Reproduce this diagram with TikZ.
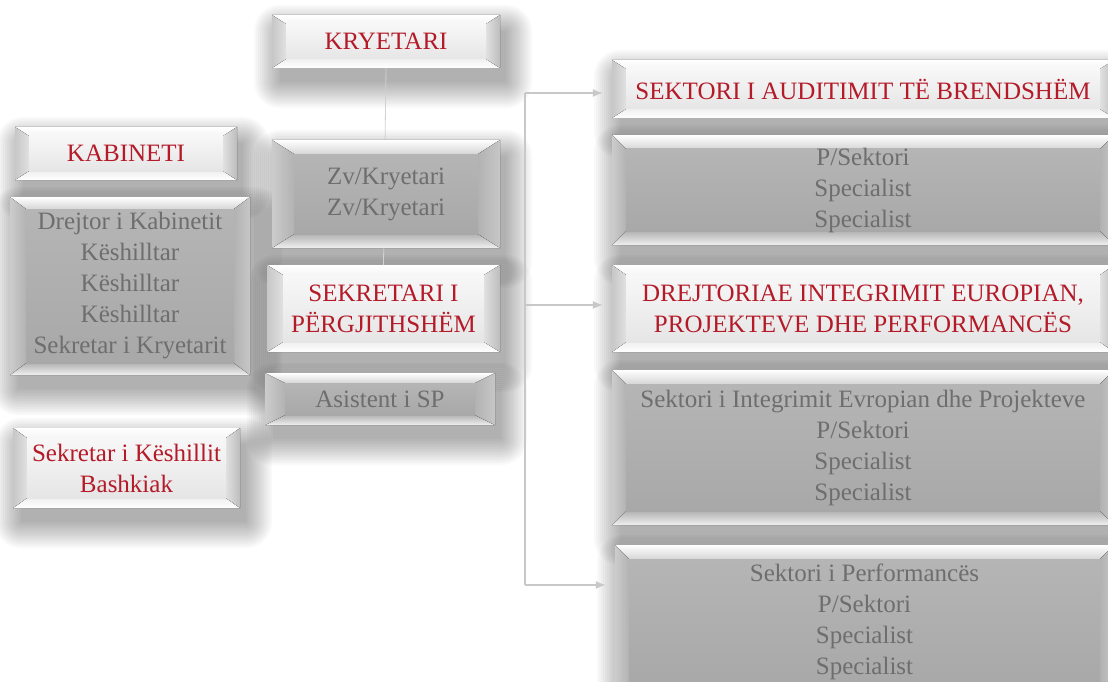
\documentclass[tikz,border=0pt]{standalone}
\usepackage{fontspec}
\setmainfont{Liberation Serif}
\usetikzlibrary{arrows.meta}
\definecolor{redt}{RGB}{180,26,40}
\definecolor{grayt}{RGB}{110,110,110}
\definecolor{connc}{RGB}{200,200,200}
\tikzset{
  Ltop/.style={top color=white,bottom color=black!4},
  Lbot/.style={top color=black!6,bottom color=white},
  Lleft/.style={left color=black!22,right color=black!12},
  Lright/.style={left color=black!12,right color=black!26},
  Lface/.style={top color=black!3,bottom color=black!10},
  Dtop/.style={top color=white,bottom color=black!16},
  Dbot/.style={top color=black!30,bottom color=black!6},
  Dleft/.style={left color=black!20,right color=black!30},
  Dright/.style={left color=black!30,right color=black!22},
  Dface/.style={top color=black!29,bottom color=black!34},
  Ltext/.style={text=redt,align=center,inner sep=0pt,font=\fontsize{25}{31}\selectfont},
  Dtext/.style={text=grayt,align=center,inner sep=0pt,font=\fontsize{25}{31}\selectfont},
  conn/.style={draw=connc,line width=1.3pt},
  arr/.style={conn,-{Latex[length=10pt,width=8pt]},shorten >=9pt},
}
% #1 name #2 type #3 x1 #4 y1 #5 x2 #6 y2 #7 dx #8 dy #9 text
\newcommand\mkbox[9]{%
  \fill[#2top] (#3,#4) -- (#5,#4) -- ({#5-#7},{#4+#8}) -- ({#3+#7},{#4+#8}) -- cycle;
  \fill[#2bot] (#3,#6) -- (#5,#6) -- ({#5-#7},{#6-#8}) -- ({#3+#7},{#6-#8}) -- cycle;
  \fill[#2left] (#3,#4) -- ({#3+#7},{#4+#8}) -- ({#3+#7},{#6-#8}) -- (#3,#6) -- cycle;
  \fill[#2right] (#5,#4) -- ({#5-#7},{#4+#8}) -- ({#5-#7},{#6-#8}) -- (#5,#6) -- cycle;
  \fill[#2face] ({#3+#7},{#4+#8}) rectangle ({#5-#7},{#6-#8});
  \node[#2text,minimum width={#5-#3},minimum height={#6-#4}] (#1) at ({(#3+#5)/2},{(#4+#6)/2}) {#9};
}
\newcommand\shad[4]{%
  \foreach \k in {0,2,...,26}{%
    \fill[black,opacity=0.022,rounded corners=\k] ({#1+8-\k},{#2+16-\k}) rectangle ({#3+6+\k},{#4+14+\k});
  }%
}
\begin{document}
\begin{tikzpicture}[x=1pt,y=-1pt]
\useasboundingbox (0,0) rectangle (1108,682);
\clip (0,0) rectangle (1108,682);
\fill[white] (0,0) rectangle (1108,682);
% shadows
\shad{272}{15}{500}{68}
\shad{272}{140}{500}{248}
\shad{267}{265}{500}{352}
\shad{265}{373}{495}{425}
\shad{15}{127}{237}{180}
\shad{10}{197}{250}{375}
\shad{13}{428}{240}{508}
\shad{612}{60}{1114}{118}
\shad{612}{135}{1114}{245}
\shad{612}{265}{1114}{352}
\shad{612}{370}{1114}{525}
\shad{615}{545}{1114}{690}
% connector junctions
\coordinate (t1) at (525,93);
\coordinate (t2) at (525,305);
\coordinate (t3) at (525,585);
% boxes
\mkbox{kab}{L}{15}{127}{237}{180}{14}{9}{KABINETI}
\mkbox{dre}{D}{10}{197}{250}{375}{16}{12}{Drejtor i Kabinetit\\Këshilltar\\Këshilltar\\Këshilltar\\Sekretar i Kryetarit}
\mkbox{skb}{L}{13}{428}{240}{508}{14}{10}{Sekretar i Këshillit\\Bashkiak}
\mkbox{kry}{L}{272}{15}{500}{68}{14}{9}{KRYETARI}
\mkbox{sek}{L}{267}{265}{500}{352}{16}{10}{SEKRETARI I\\PËRGJITHSHËM}
\draw[draw=black!18,line width=0.8pt] (kry.south) -- (sek.north);
\mkbox{zv}{D}{272}{140}{500}{248}{22}{14}{Zv/Kryetari\\Zv/Kryetari}
\mkbox{asi}{D}{265}{373}{495}{425}{20}{10}{Asistent i SP}
\mkbox{aud}{L}{612}{60}{1114}{118}{14}{9}{SEKTORI I AUDITIMIT TË BRENDSHËM}
\mkbox{audg}{D}{612}{135}{1114}{245}{14}{14}{P/Sektori\\Specialist\\Specialist}
\mkbox{drj}{L}{612}{265}{1114}{352}{14}{10}{DREJTORIAE INTEGRIMIT EUROPIAN,\\PROJEKTEVE DHE PERFORMANCËS}
\mkbox{int}{D}{612}{370}{1114}{525}{14}{14}{Sektori i Integrimit Evropian dhe Projekteve\\P/Sektori\\Specialist\\Specialist}
\mkbox{perf}{D}{615}{545}{1114}{698}{14}{14}{Sektori i Performancës\\P/Sektori\\Specialist\\Specialist}
% connectors
\draw[conn] (t1) -- (t3);
\draw[arr] (t1) -- (t1 -| aud.west);
\draw[arr] (t2) -- (t2 -| drj.west);
\draw[arr] (t3) -- (t3 -| perf.west);
\end{tikzpicture}
\end{document}
